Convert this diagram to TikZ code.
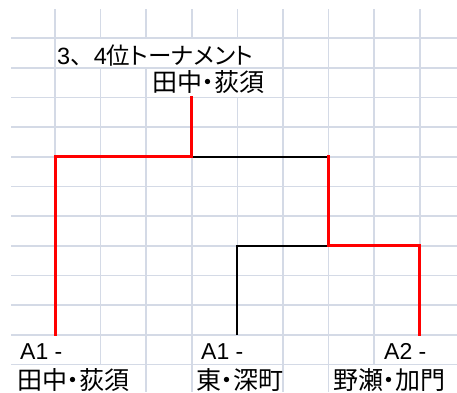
\documentclass[tikz,border=0pt]{standalone}
\usepackage{fontspec}
\setmainfont{Liberation Sans}
\newfontfamily\jpfont[RawFeature=+palt]{Noto Sans CJK JP}
\newfontfamily\jpwide{Noto Sans CJK JP}
\newcommand{\jp}[1]{{\jpfont #1}}
\usetikzlibrary{positioning}
\definecolor{gridgray}{RGB}{212,218,230}
\tikzstyle{gridline}=[draw=gridgray,line width=1.7pt]
\tikzstyle{cellmask}=[fill=white]
\tikzstyle{entry}=[font=\fontsize{25}{30}\selectfont,inner sep=0,anchor=base west]
\tikzstyle{heading}=[font=\fontsize{23.5}{28}\selectfont,inner sep=0,anchor=base west]
\tikzstyle{seed}=[font=\fontsize{23}{27}\selectfont,inner sep=0,anchor=base west]
\tikzstyle{winline}=[draw=red,line width=3pt,line cap=rect]
\tikzstyle{loseline}=[draw=black,line width=2pt]

\begin{document}
\begin{tikzpicture}[x=1pt,y=-1pt]

      \useasboundingbox (0,0) rectangle (457,392);

      % sheet grid
      \foreach \r in {0,...,11}
        \draw[gridline] (11,{38.2+29.65*\r}) -- (457,{38.2+29.65*\r});
      \foreach \c in {0,...,8}
        \draw[gridline] ({55+45.6*\c},9) -- ({55+45.6*\c},392);

      % cells where the text runs over
      \fill[cellmask] (55.9,39.1) rectangle (282.1,67.0);
      \fill[cellmask] (147.1,68.7) rectangle (282.1,96.6);
      \fill[cellmask] (11,335.6) rectangle (99.7,363.5);
      \fill[cellmask] (192.7,335.6) rectangle (282.1,363.5);
      \fill[cellmask] (375.1,335.6) rectangle (457,363.5);
      \fill[cellmask] (11,365.2) rectangle (145.3,392);
      \fill[cellmask] (192.7,365.2) rectangle (282.1,392);
      \fill[cellmask] (329.5,365.2) rectangle (457,392);

      \coordinate (team_tanaka) at (55,334.7);
      \coordinate (team_higashi) at (237.4,334.7);
      \coordinate (team_nose) at (419.8,334.7);
      \coordinate (match_semi) at (328.6,245.75);
      \coordinate (match_final) at (191.8,156.8);
      \coordinate (winner) at (191.8,97.5);

      \draw[loseline] (match_final) -- (match_semi |- match_final);
      \draw[loseline] (team_higashi) |- (match_semi);

      \draw[winline] (team_tanaka) |- (match_final) -- (winner);
      \draw[winline] (match_semi |- match_final) -- (match_semi) -| (team_nose);

      \node[heading] (title) at (57,64) {3{\jpwide 、}4\jp{位トーナメント}};
      \node[entry] (winner_name) at (152,91.5) {\jp{田中・荻須}};

      \node[seed] (seed_tanaka) at (20,359) {A1 -};
      \node[seed] (seed_higashi) at (201,359) {A1 -};
      \node[seed] (seed_nose) at (384,359) {A2 -};

      \node[entry] (name_tanaka) at (17,389) {\jp{田中・荻須}};
      \node[entry] (name_higashi) at (196,389) {\jp{東・深町}};
      \node[entry] (name_nose) at (333,389) {\jp{野瀬・加門}};

    \end{tikzpicture}
\end{document}
